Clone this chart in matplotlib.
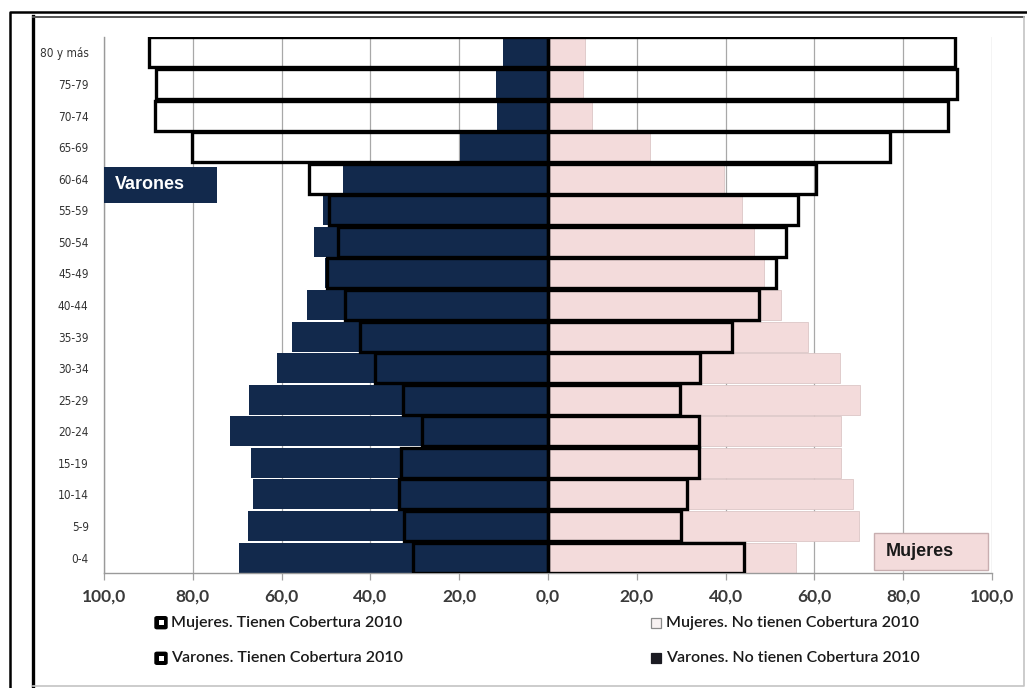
import numpy as np
import matplotlib
matplotlib.use("Agg")
import matplotlib.pyplot as plt
from matplotlib import font_manager
from matplotlib.patches import Rectangle, FancyBboxPatch
from matplotlib.lines import Line2D
from matplotlib.ticker import FuncFormatter

# ---------------- data (top row first) ----------------
grupos = ["80 y más", "75-79", "70-74", "65-69", "60-64", "55-59", "50-54",
          "45-49", "40-44", "35-39", "30-34", "25-29", "20-24", "15-19",
          "10-14", "5-9", "0-4"]
varones_no_tienen = [10.1, 11.7, 11.5, 19.8, 46.1, 50.6, 52.8, 50.3, 54.3,
                     57.6, 61.0, 67.3, 71.7, 67.0, 66.4, 67.5, 69.6]
varones_tienen = [89.9, 88.3, 88.5, 80.2, 53.9, 49.4, 47.2, 49.7, 45.7,
                  42.4, 39.0, 32.7, 28.3, 33.0, 33.6, 32.5, 30.4]
mujeres_no_tienen = [8.3, 7.8, 9.9, 22.9, 39.7, 43.8, 46.5, 48.7, 52.5,
                     58.6, 65.8, 70.3, 66.1, 66.1, 68.7, 70.1, 55.9]
mujeres_tienen = [91.7, 92.2, 90.1, 77.1, 60.3, 56.2, 53.5, 51.3, 47.5,
                  41.4, 34.2, 29.7, 33.9, 33.9, 31.3, 29.9, 44.1]
x_ticks = [-100, -80, -60, -40, -20, 0, 20, 40, 60, 80, 100]
leyenda = ["Mujeres. Tienen Cobertura 2010", "Mujeres. No tienen Cobertura 2010",
           "Varones. Tienen Cobertura 2010", "Varones. No tienen Cobertura 2010"]

# ---------------- styles ----------------
NAVY = "#12294c"
PINK = "#f3dbdb"
W, H = 1027, 688

names = {f.name for f in font_manager.fontManager.ttflist}
if "Liberation Sans Narrow" in names:
    ylab_font = dict(family="Liberation Sans Narrow", size=10)
else:
    ylab_font = dict(family="DejaVu Sans", stretch="condensed", size=8.5)
CAL = "Lato" if "Lato" in names else "DejaVu Sans"
ARIAL = "Liberation Sans" if "Liberation Sans" in names else "DejaVu Sans"

fig = plt.figure(figsize=(W / 100, H / 100), dpi=100)
fig.patch.set_facecolor("white")


def fx(x):
    return x / W


def fy(y):
    return 1 - y / H


ax = fig.add_axes([fx(104), fy(573.3), (992 - 104) / W, (573.3 - 36.7) / H])

n = len(grupos)
ypos = np.arange(n)[::-1]  # top row = highest position

ax.barh(ypos, -np.array(varones_no_tienen), height=0.95, color=NAVY,
        edgecolor="none", zorder=2)
ax.barh(ypos, mujeres_no_tienen, height=0.95, color=PINK,
        edgecolor="#dcc6c6", linewidth=0.6, zorder=2)
ax.barh(ypos, -np.array(varones_tienen), height=0.95, fill=False,
        edgecolor="black", linewidth=2.4, zorder=3)
ax.barh(ypos, mujeres_tienen, height=0.95, fill=False,
        edgecolor="black", linewidth=2.4, zorder=3)

ax.set_xlim(-100, 100)
ax.set_ylim(-0.5, n - 0.5)
ax.set_xticks(x_ticks)
ax.xaxis.set_major_formatter(FuncFormatter(lambda v, p: f"{abs(v):.1f}".replace(".", ",")))
ax.set_yticks(ypos)
ax.set_yticklabels(grupos, color="#333333", **ylab_font)
for lab in ax.get_xticklabels():
    lab.set_fontfamily(CAL)
    lab.set_fontweight("bold")
    lab.set_fontsize(12.5)
    lab.set_color("#3a3a3a")
ax.tick_params(axis="y", length=0, pad=11)
ax.tick_params(axis="x", length=5, width=0.9, color="#a0a0a0", pad=6)
ax.grid(axis="x", color="#a8a8a8", linewidth=0.9, zorder=0)
ax.set_axisbelow(True)
for s in ["top", "right"]:
    ax.spines[s].set_visible(False)
for s in ["left", "bottom"]:
    ax.spines[s].set_color("#9a9a9a")
    ax.spines[s].set_linewidth(1.0)

# side labels
ax.add_patch(Rectangle((-100, 11.24), 25.4, 1.14, facecolor=NAVY,
                       edgecolor="none", zorder=5, clip_on=False))
ax.text(-97.5, 11.81, "Varones", color="white", fontweight="bold",
        fontsize=13, family=ARIAL, va="center", ha="left", zorder=6)
ax.add_patch(Rectangle((73.4, -0.40), 25.7, 1.175, facecolor=PINK,
                       edgecolor="#c8aeb0", linewidth=1, zorder=5, clip_on=False))
ax.text(76.1, 0.19, "Mujeres", color="#1a1a1a", fontweight="bold",
        fontsize=13, family=ARIAL, va="center", ha="left", zorder=6)

# legend (manual, 2 x 2)
rows_y = [622.7, 658.3]
cols = [(155, 171), (651, 666)]


def marker(kind, x0, yc):
    s = 12
    if kind == "tienen":
        fig.add_artist(FancyBboxPatch((fx(x0), fy(yc + s / 2)), s / W, s / H,
                                      boxstyle="round,pad=0,rounding_size=0.002",
                                      facecolor="black", edgecolor="black",
                                      transform=fig.transFigure))
        fig.add_artist(Rectangle((fx(x0 + 3.5), fy(yc + 2.5)), 5 / W, 5 / H,
                                 facecolor="white", edgecolor="none",
                                 transform=fig.transFigure))
    elif kind == "pink":
        fig.add_artist(Rectangle((fx(x0), fy(yc + 5)), 10 / W, 10 / H,
                                 facecolor="#f7f1f1", edgecolor="#8a8a8a",
                                 linewidth=0.9, transform=fig.transFigure))
    else:
        fig.add_artist(Rectangle((fx(x0), fy(yc + 5)), 10 / W, 10 / H,
                                 facecolor="#1b1b22", edgecolor="#1b1b22",
                                 linewidth=0.9, transform=fig.transFigure))


kinds = ["tienen", "pink", "tienen", "dark"]
for i, txt in enumerate(leyenda):
    r, c = divmod(i, 2)
    mx, tx = cols[c]
    yc = rows_y[r]
    marker(kinds[i], mx, yc)
    fig.text(fx(tx), fy(yc), txt, family=CAL, fontsize=11.5, color="#1a1a1a",
             va="center", ha="left", fontweight="semibold")

# frames
fig.add_artist(Line2D([fx(10), fx(10), fx(W)], [fy(H), fy(12), fy(12)],
                      color="black", linewidth=1.8, transform=fig.transFigure))
fig.add_artist(Line2D([fx(33), fx(33)], [fy(686), fy(16)], color="black",
                      linewidth=2.4, transform=fig.transFigure))
fig.add_artist(Line2D([fx(33), fx(1024)], [fy(16.5), fy(16.5)], color="#555555",
                      linewidth=1.4, transform=fig.transFigure))
fig.add_artist(Line2D([fx(1024), fx(1024), fx(33)], [fy(16.5), fy(686), fy(686)],
                      color="#c4c4c4", linewidth=1.2, transform=fig.transFigure))

fig.savefig("out.png", dpi=100)
